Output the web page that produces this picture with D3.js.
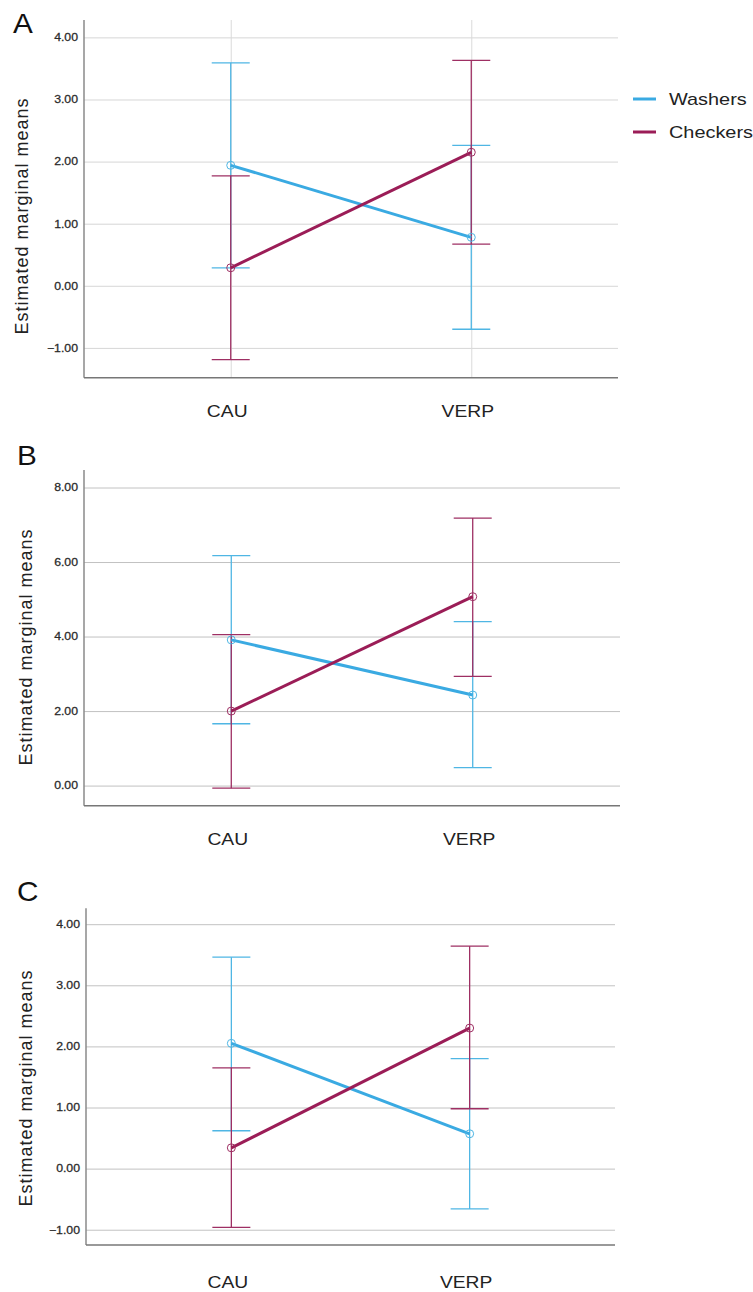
<!DOCTYPE html>
<html>
<head>
<meta charset="utf-8">
<script src="https://cdn.jsdelivr.net/npm/d3@7"></script>
<style>
  body { margin: 0; background: #fff; }
  svg { display: block; font-family: "Liberation Sans", Arial, sans-serif; }
</style>
</head>
<body>
<div id="chart"></div>
<script>
"use strict"

var categories = ["CAU", "VERP"];
var seriesNames = ["Washers", "Checkers"];

// panel A
var aWashersMean = [1.94, 0.78];
var aWashersLow = [0.29, -0.70];
var aWashersHigh = [3.59, 2.26];
var aCheckersMean = [0.29, 2.15];
var aCheckersLow = [-1.19, 0.67];
var aCheckersHigh = [1.77, 3.63];
var aTicks = [-1, 0, 1, 2, 3, 4];

// panel B
var bWashersMean = [3.91, 2.43];
var bWashersLow = [1.66, 0.48];
var bWashersHigh = [6.17, 4.40];
var bCheckersMean = [2.00, 5.07];
var bCheckersLow = [-0.07, 2.93];
var bCheckersHigh = [4.05, 7.18];
var bTicks = [0, 2, 4, 6, 8];

// panel C
var cWashersMean = [2.05, 0.57];
var cWashersLow = [0.62, -0.66];
var cWashersHigh = [3.46, 1.80];
var cCheckersMean = [0.34, 2.30];
var cCheckersLow = [-0.96, 0.98];
var cCheckersHigh = [1.65, 3.64];
var cTicks = [-1, 0, 1, 2, 3, 4];

var lineColor = { Washers: "#3aaae2", Checkers: "#9b1d57" };
var barColor = { Washers: "#4fb6e4", Checkers: "#9e2f63" };
var stretch = 1.17; // source image is a bit wide

var svg = d3.select("#chart").append("svg")
  .attr("width", 753)
  .attr("height", 1292);

function rows(mean, low, high) {
  return categories.map(function(c, i) {
    return { cat: c, mean: mean[i], low: low[i], high: high[i] };
  });
}

var panels = [
  { letter: "A", letterX: 13, letterY: 33, left: 84, right: 618, top: 20, bottom: 377.7,
    domain: [-1.48, 4.28], ticks: aTicks, vgrid: true, grid: "#d6d6d6", labelPad: 28, titleX: 28, titleY: 216,
    series: { Washers: rows(aWashersMean, aWashersLow, aWashersHigh),
              Checkers: rows(aCheckersMean, aCheckersLow, aCheckersHigh) } },
  { letter: "B", letterX: 17, letterY: 465, left: 84, right: 620, top: 470, bottom: 805.7,
    domain: [-0.54, 8.47], ticks: bTicks, vgrid: false, grid: "#c2c2c2", labelPad: 28, titleX: 32, titleY: 647,
    series: { Washers: rows(bWashersMean, bWashersLow, bWashersHigh),
              Checkers: rows(bCheckersMean, bCheckersLow, bCheckersHigh) } },
  { letter: "C", letterX: 17, letterY: 901, left: 86, right: 615, top: 908.3, bottom: 1245,
    domain: [-1.25, 4.26], ticks: cTicks, vgrid: false, grid: "#c2c2c2", labelPad: 31, titleX: 32, titleY: 1088,
    series: { Washers: rows(cWashersMean, cWashersLow, cWashersHigh),
              Checkers: rows(cCheckersMean, cCheckersLow, cCheckersHigh) } }
];

panels.forEach(function(p) {
  var x = d3.scalePoint().domain(categories).range([p.left, p.right]).padding(0.61);
  var y = d3.scaleLinear().domain(p.domain).range([p.bottom, p.top]);
  var g = svg.append("g");

  // gridlines
  g.append("g")
    .attr("transform", "translate(" + p.left + ",0)")
    .call(d3.axisLeft(y).tickValues(p.ticks).tickSize(-(p.right - p.left)).tickFormat(""))
    .call(function(s) {
      s.select(".domain").remove();
      s.selectAll("line").attr("stroke", p.grid).attr("stroke-width", 1);
    });

  if (p.vgrid) {
    g.append("g")
      .attr("transform", "translate(0," + p.bottom + ")")
      .call(d3.axisBottom(x).tickSize(-(p.bottom - p.top)).tickFormat(""))
      .call(function(s) {
        s.select(".domain").remove();
        s.selectAll("line").attr("stroke", "#dadada").attr("stroke-width", 1);
      });
  }

  // y tick labels
  g.append("g")
    .attr("transform", "translate(" + p.left + ",0)")
    .call(d3.axisLeft(y).tickValues(p.ticks).tickSize(0).tickPadding(6).tickFormat(d3.format(".2f")))
    .call(function(s) {
      s.select(".domain").remove();
      s.selectAll("text")
        .attr("x", -6 / stretch)
        .attr("transform", "scale(" + stretch + ",1)")
        .attr("font-size", 10.5)
        .attr("fill", "#2a2a2a")
        .attr("stroke", "#2a2a2a")
        .attr("stroke-width", 0.25)
        .attr("font-family", "Liberation Sans, Arial, sans-serif");
    });

  // x axis labels
  g.append("g")
    .attr("transform", "translate(-4," + p.bottom + ")")
    .call(d3.axisBottom(x).tickSize(0).tickPadding(p.labelPad))
    .call(function(s) {
      s.select(".domain").remove();
      s.selectAll("text")
        .attr("transform", "scale(" + stretch + ",1)")
        .attr("font-size", 16.5)
        .attr("fill", "#222")
        .attr("font-family", "Liberation Sans, Arial, sans-serif");
    });

  // axis lines
  g.append("line")
    .attr("x1", p.left).attr("x2", p.left)
    .attr("y1", p.top).attr("y2", p.bottom)
    .attr("stroke", "#8a8a8a").attr("stroke-width", 1.5);
  g.append("line")
    .attr("x1", p.left).attr("x2", p.right)
    .attr("y1", p.bottom).attr("y2", p.bottom)
    .attr("stroke", "#777").attr("stroke-width", 1.5);

  // error bars
  seriesNames.forEach(function(name) {
    var eb = g.append("g").attr("stroke", barColor[name]).attr("stroke-width", 1.3);
    var d = p.series[name];
    eb.selectAll(".v").data(d).join("line")
      .attr("x1", function(r) { return x(r.cat); })
      .attr("x2", function(r) { return x(r.cat); })
      .attr("y1", function(r) { return y(r.low); })
      .attr("y2", function(r) { return y(r.high); });
    eb.selectAll(".hi").data(d).join("line")
      .attr("x1", function(r) { return x(r.cat) - 19; })
      .attr("x2", function(r) { return x(r.cat) + 19; })
      .attr("y1", function(r) { return y(r.high); })
      .attr("y2", function(r) { return y(r.high); });
    eb.selectAll(".lo").data(d).join("line")
      .attr("x1", function(r) { return x(r.cat) - 19; })
      .attr("x2", function(r) { return x(r.cat) + 19; })
      .attr("y1", function(r) { return y(r.low); })
      .attr("y2", function(r) { return y(r.low); });
  });

  // mean lines + markers
  seriesNames.forEach(function(name) {
    var d = p.series[name];
    g.append("path")
      .datum(d)
      .attr("fill", "none")
      .attr("stroke", lineColor[name])
      .attr("stroke-width", 3)
      .attr("d", d3.line()
        .x(function(r) { return x(r.cat); })
        .y(function(r) { return y(r.mean); }));
    g.selectAll(null).data(d).join("circle")
      .attr("cx", function(r) { return x(r.cat); })
      .attr("cy", function(r) { return y(r.mean); })
      .attr("r", 4)
      .attr("fill", "none")
      .attr("stroke", barColor[name])
      .attr("stroke-width", 1);
  });

  // y title
  svg.append("text")
    .attr("transform", "translate(" + p.titleX + "," + p.titleY + ") rotate(-90)")
    .attr("text-anchor", "middle")
    .attr("font-size", 18)
    .attr("letter-spacing", 1)
    .attr("fill", "#222")
    .text("Estimated marginal means");

  // panel letter
  svg.append("text")
    .attr("transform", "translate(" + p.letterX + "," + p.letterY + ") scale(1.1,1)")
    .attr("font-size", 27)
    .attr("fill", "#111")
    .text(p.letter);
});

// legend (panel A only)
var legend = svg.append("g").attr("transform", "translate(633,99)");
seriesNames.forEach(function(name, i) {
  var row = legend.append("g").attr("transform", "translate(0," + (i * 33) + ")");
  row.append("line")
    .attr("x1", 0).attr("x2", 23)
    .attr("stroke", lineColor[name]).attr("stroke-width", 3);
  row.append("text")
    .attr("transform", "translate(36,6) scale(" + stretch + ",1)")
    .attr("font-size", 17)
    .attr("fill", "#222")
    .text(name);
});
</script>
</body>
</html>
